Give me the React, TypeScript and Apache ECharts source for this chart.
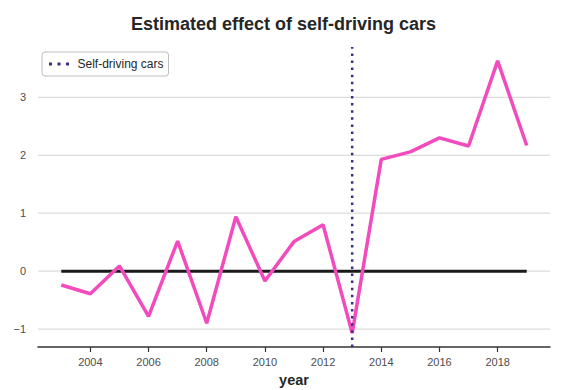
import React, { useEffect, useRef } from "react";
import * as echarts from "echarts";

const years = [2003, 2004, 2005, 2006, 2007, 2008, 2009, 2010, 2011, 2012, 2013, 2014, 2015, 2016, 2017, 2018, 2019];
const effect = [-0.24, -0.39, 0.09, -0.78, 0.52, -0.9, 0.94, -0.17, 0.51, 0.8, -1.07, 1.93, 2.06, 2.3, 2.16, 3.63, 2.17];
const zeroLine = [0, 0, 0, 0, 0, 0, 0, 0, 0, 0, 0, 0, 0, 0, 0, 0, 0];
const xTicks = [2004, 2006, 2008, 2010, 2012, 2014, 2016, 2018];
const yTicks = [-1, 0, 1, 2, 3];
const treatmentYear = 2013;
const xMin = 2002.2;
const xMax = 2019.8;
const yMin = -1.31;
const yMax = 3.87;

const FONT = "Liberation Sans, Arial, Helvetica, sans-serif";

export default function App() {
  const ref = useRef<HTMLDivElement>(null);
  useEffect(() => {
    document.body.style.margin = "0";
    if (!ref.current) return;
    const chart = echarts.init(ref.current, undefined, { renderer: "svg" });
    const gridData: any[] = [];
    yTicks.forEach((v, i) => {
      if (i > 0) gridData.push("-");
      gridData.push([xMin, v], [xMax, v]);
    });
    chart.setOption({
      animation: false,
      backgroundColor: "#ffffff",
      textStyle: { fontFamily: FONT },
      title: {
        text: "Estimated effect of self-driving cars",
        left: "center",
        top: 10,
        textStyle: { fontSize: 18, fontWeight: "bold", color: "#262626", fontFamily: FONT },
      },
      legend: {
        left: 42,
        top: 52,
        orient: "vertical",
        data: [
          {
            name: "Self-driving cars",
            icon: "path://M0,0h3v3h-3z M8.5,0h3v3h-3z M17,0h3v3h-3z",
            itemStyle: { color: "#3b2e86" },
          },
        ],
        itemWidth: 21,
        itemHeight: 3,
        itemGap: 10,
        padding: [6, 5, 6, 7],
        borderColor: "#bdbdbd",
        borderWidth: 1,
        borderRadius: 3,
        textStyle: { fontSize: 12, color: "#262626", fontFamily: FONT, padding: [0, 0, 0, 3] },
      },
      grid: { left: 38, right: 17, top: 47, bottom: 43, outerBoundsMode: "none", containLabel: false },
      xAxis: {
        type: "value",
        min: xMin,
        max: xMax,
        name: "year",
        nameLocation: "middle",
        nameGap: 25,
        nameTextStyle: { fontSize: 14.5, fontWeight: "bold", color: "#262626", fontFamily: FONT },
        axisLine: { show: true, onZero: false, lineStyle: { color: "#333333", width: 1.5 } },
        axisTick: { show: true, customValues: xTicks, length: 5, lineStyle: { color: "#333333", width: 1.2 } },
        axisLabel: { customValues: xTicks, fontSize: 11, color: "#4d4d4d", margin: 9, formatter: (v: number) => String(v) },
        splitLine: { show: false },
      },
      yAxis: {
        type: "value",
        min: yMin,
        max: yMax,
        axisLine: { show: false },
        axisTick: { show: false },
        axisLabel: {
          customValues: yTicks,
          fontSize: 11,
          color: "#4d4d4d",
          margin: 12,
          formatter: (v: number) => (v < 0 ? "\u2212" + Math.abs(v) : String(v)),
        },
        splitLine: { show: false },
      },
      series: [
        {
          type: "line",
          name: "grid",
          data: gridData,
          showSymbol: false,
          silent: true,
          connectNulls: false,
          lineStyle: { color: "#dcdcdc", width: 1.2 },
          z: 0,
        },
        {
          type: "line",
          name: "zero",
          data: years.map((y, i) => [y, zeroLine[i]]),
          showSymbol: false,
          lineStyle: { color: "#1a1a1a", width: 3 },
          z: 2,
        },
        {
          type: "line",
          name: "effect",
          data: years.map((y, i) => [y, effect[i]]),
          showSymbol: false,
          lineStyle: { color: "#f24bbd", width: 3.5 },
          z: 3,
        },
        {
          type: "line",
          name: "Self-driving cars",
          data: [
            [treatmentYear, yMin],
            [treatmentYear, yMax],
          ],
          showSymbol: false,
          color: "#3b2e86",
          lineStyle: { color: "#3b2e86", width: 2.5, type: [2.5, 4.6] },
          z: 4,
        },
      ],
    });
    return () => chart.dispose();
  }, []);
  return <div ref={ref} style={{ width: 567, height: 390 }} />;
}
